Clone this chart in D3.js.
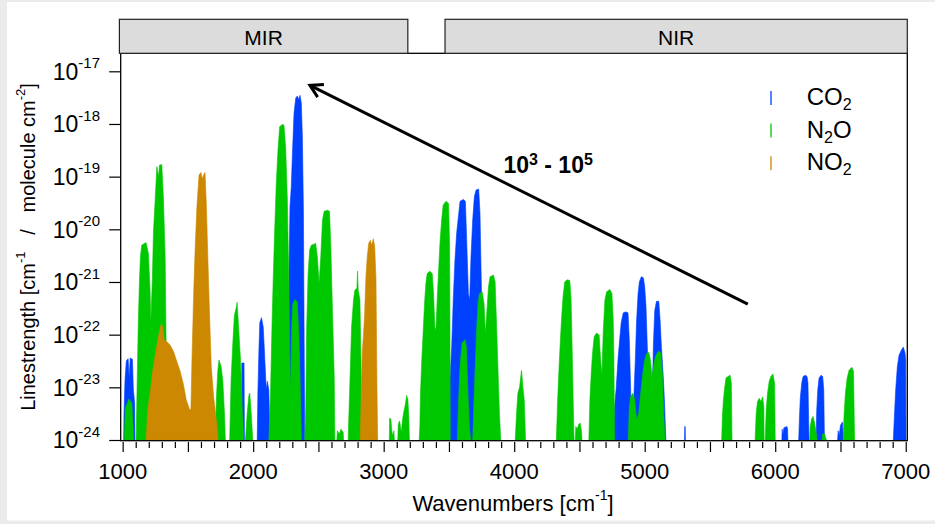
<!DOCTYPE html>
<html>
<head>
<meta charset="utf-8">
<script src="https://cdn.jsdelivr.net/npm/d3@7"></script>
<style>
  body { margin: 0; background: #ebebeb; }
  svg { display: block; font-family: "Liberation Sans", Arial, sans-serif; }
</style>
</head>
<body>
<svg id="chart" width="935" height="524"></svg>
<script>
// Band envelopes: [wavenumber (cm-1), line strength]
var co2Bands = [
  [[1008,1e-24],[1010,3e-24],[1018,1.4e-23],[1028,3.2e-23],[1042,3.5e-23],[1050,1.5e-23],[1058,3.6e-23],[1075,3.4e-23],[1082,9e-24],[1092,5e-24],[1094,1e-24]],
  [[1910,1e-24],[1913,2.9e-23],[1930,2.9e-23],[1933,1e-24]],
  [[2031,1e-24],[2036,7.8e-24],[2044,5.1e-23],[2051,1.7e-22],[2064,2.1e-22],[2077,1.4e-22],[2087,4.5e-23],[2100,9e-24],[2108,1.3e-23],[2120,9e-24],[2128,1e-24]],
  [[2269,1e-24],[2274,1.26e-21],[2282,2.7e-20],[2292,6.4e-20],[2300,2.4e-19],[2313,1.6e-18],[2326,3.1e-18],[2338,3.4e-18],[2349,2.9e-18],[2359,3.5e-18],[2369,2.5e-18],[2377,5.8e-19],[2385,2.3e-20],[2390,1.4e-22],[2395,1e-24]],
  [[3503,1e-24],[3508,1.4e-23],[3521,5.9e-23],[3533,4.6e-22],[3546,2.6e-21],[3559,8.4e-21],[3572,1.7e-20],[3585,3.4e-20],[3610,3.7e-20],[3626,3.4e-20],[3636,6.3e-21],[3649,6e-22],[3659,4.6e-22],[3669,3e-21],[3682,1.5e-20],[3695,4.2e-20],[3708,5.6e-20],[3728,5.8e-20],[3738,2e-20],[3749,7.1e-22],[3759,5.9e-23],[3769,3.2e-24],[3777,1e-24]],
  [[4759,1e-24],[4769,4.3e-24],[4782,1e-23],[4795,3.3e-23],[4808,8e-23],[4820,1.7e-22],[4836,2.6e-22],[4854,2.7e-22],[4872,2.6e-22],[4882,8e-23],[4892,1e-23],[4900,1e-24]],
  [[4908,1e-24],[4918,7.7e-24],[4928,3.3e-23],[4938,1.9e-22],[4949,6e-22],[4959,1e-21],[4974,1.26e-21],[4990,1.2e-21],[5000,8.1e-22],[5010,3.4e-22],[5020,5.9e-23],[5031,7.7e-24],[5041,1e-24]],
  [[5051,1e-24],[5059,1e-23],[5067,6.9e-23],[5077,2.9e-22],[5090,4.3e-22],[5108,4.3e-22],[5118,1.9e-22],[5128,5.9e-23],[5141,1.8e-23],[5151,5.8e-24],[5162,1e-24]],
  [[5305,1e-24],[5307,1.8e-24],[5310,1.8e-24],[5312,1e-24]],
  [[6051,1e-24],[6053,1.6e-24],[6060,1.3e-24],[6066,1.7e-24],[6090,1.8e-24],[6095,1.6e-24],[6097,1e-24]],
  [[6180,1e-24],[6185,2.4e-24],[6192,6.2e-24],[6203,1.2e-23],[6213,1.6e-23],[6231,1.7e-23],[6244,1.6e-23],[6251,1.2e-23],[6259,1e-24]],
  [[6313,1e-24],[6318,3.7e-24],[6326,8.9e-24],[6336,1.5e-23],[6351,1.7e-23],[6364,1.6e-23],[6372,8.9e-24],[6377,1e-24]],
  [[6478,1e-24],[6482,1.5e-24],[6490,1.2e-24],[6500,1.9e-24],[6515,2.2e-24],[6522,1e-24]],
  [[6905,1e-24],[6913,2.8e-24],[6923,8.9e-24],[6936,2.5e-23],[6949,4.1e-23],[6967,5.1e-23],[6982,5.8e-23],[6995,4.4e-23],[7000,3.3e-23],[7002,1e-24]]
];

var n2oBands = [
  [[1012,1e-24],[1020,4e-24],[1048,6e-24],[1070,5e-24],[1085,1e-24]],
  [[1103,1e-24],[1113,2.1e-23],[1120,1.8e-22],[1128,9.4e-22],[1136,3e-21],[1146,5e-21],[1179,5.6e-21],[1197,3.5e-21],[1210,7.1e-22],[1216,1.7e-22],[1228,1.26e-21],[1236,9e-21],[1249,3.6e-20],[1262,1.55e-19],[1275,1e-19],[1282,1.65e-19],[1300,1.7e-19],[1313,3.6e-20],[1326,2.6e-21],[1333,6.9e-23],[1338,1e-24]],
  [[1710,1e-24],[1718,5.8e-24],[1728,1.9e-23],[1738,3.3e-23],[1754,2.5e-23],[1767,1.4e-23],[1780,3.2e-24],[1787,1e-24]],
  [[1820,1e-24],[1831,1.4e-23],[1844,6.9e-23],[1856,2.3e-22],[1872,3.4e-22],[1877,4.1e-22],[1887,1.6e-22],[1903,3.3e-23],[1918,3.2e-24],[1928,1e-24]],
  [[1941,1e-24],[1954,3.2e-24],[1967,7e-24],[1974,7.8e-24],[1985,3.2e-24],[1997,1e-24]],
  [[2120,1e-24],[2133,7.8e-24],[2144,1.4e-22],[2154,1.26e-21],[2164,8.3e-21],[2177,7.4e-20],[2190,3.2e-19],[2203,8.9e-19],[2223,9.8e-19],[2236,9.5e-19],[2249,3.5e-19],[2262,3.6e-20],[2272,1.45e-21],[2280,5e-23],[2287,7.8e-24],[2295,1.4e-22],[2303,3.7e-22],[2318,4.6e-22],[2338,4.2e-22],[2351,9.2e-23],[2359,1.6e-23],[2369,1e-24]],
  [[2395,1e-24],[2403,4.3e-24],[2410,1.4e-22],[2421,1.45e-21],[2433,4.1e-21],[2446,5e-21],[2479,5.4e-21],[2492,3e-21],[2505,9.4e-22],[2518,3e-21],[2531,1.5e-20],[2544,2.2e-20],[2569,2.3e-20],[2585,2.2e-20],[2595,4.7e-21],[2608,2.6e-22],[2621,1.6e-23],[2626,1e-24]],
  [[2641,1e-24],[2645,1.5e-24],[2660,1.3e-24],[2672,1.6e-24],[2690,1.4e-24],[2692,1e-24]],
  [[2728,1e-24],[2733,2.8e-24],[2744,2.1e-23],[2754,1.4e-22],[2769,4.6e-22],[2779,7e-22],[2795,7.6e-22],[2800,1.6e-21],[2805,7e-22],[2818,4.6e-22],[2826,3.3e-23],[2831,1e-24]],
  [[3043,1e-24],[3046,2.6e-24],[3055,2.5e-24],[3062,1.5e-24],[3068,1.2e-24],[3078,1.5e-24],[3082,1e-24]],
  [[3108,1e-24],[3112,2e-24],[3122,2.3e-24],[3135,1.4e-24],[3145,2.5e-24],[3155,3.5e-24],[3165,4.6e-24],[3176,7e-24],[3185,6e-24],[3192,3e-24],[3197,1e-24]],
  [[3272,1e-24],[3277,1.8e-24],[3282,7.7e-24],[3292,3.3e-23],[3303,1.2e-22],[3313,3.9e-22],[3323,9.3e-22],[3333,1.45e-21],[3354,1.6e-21],[3372,1.45e-21],[3382,6e-22],[3392,1.4e-22],[3400,1.2e-22],[3410,4.6e-22],[3421,1.7e-21],[3431,5.4e-21],[3444,1.5e-20],[3456,2.9e-20],[3477,3.4e-20],[3497,3.1e-20],[3505,5.4e-21],[3508,1.4e-22],[3510,1e-24]],
  [[3564,1e-24],[3574,5.8e-24],[3585,2.5e-23],[3600,6.9e-23],[3623,8e-23],[3633,5.9e-23],[3646,7.7e-24],[3656,1.8e-24],[3667,1e-24]],
  [[3682,1e-24],[3692,5.8e-24],[3703,3.3e-23],[3713,1.4e-22],[3723,3.9e-22],[3733,6e-22],[3754,6.5e-22],[3769,3.9e-22],[3779,1.07e-22],[3790,2.6e-22],[3803,8.1e-22],[3815,1.26e-21],[3841,1.36e-21],[3854,1e-21],[3867,1.07e-22],[3877,1.8e-23],[3887,3.2e-24],[3897,1e-24]],
  [[4008,1e-24],[4018,3.2e-24],[4028,7.7e-24],[4041,1e-23],[4056,2.1e-23],[4067,1e-23],[4077,5.8e-24],[4087,1e-24]],
  [[4323,1e-24],[4333,5.8e-24],[4344,2.5e-23],[4354,8e-23],[4364,2.2e-22],[4374,5.2e-22],[4387,1e-21],[4405,1.1e-21],[4426,1.07e-21],[4436,4.6e-22],[4446,3.3e-23],[4454,3.2e-24],[4459,1e-24]],
  [[4468,1e-24],[4472,1.8e-24],[4482,1.6e-24],[4495,2e-24],[4505,2.1e-24],[4515,1.5e-24],[4520,1e-24]],
  [[4572,1e-24],[4580,5.8e-24],[4590,1.8e-23],[4600,4.4e-23],[4613,9.2e-23],[4631,1.07e-22],[4651,9.9e-23],[4662,3.3e-23],[4672,1.8e-23],[4682,1.07e-22],[4695,4.6e-22],[4708,6.5e-22],[4733,7.2e-22],[4749,6e-22],[4759,1.9e-22],[4764,3.3e-23],[4769,1e-24]],
  [[4874,1e-24],[4882,4.3e-24],[4892,6.6e-24],[4908,7.7e-24],[4923,5.8e-24],[4938,2.4e-24],[4954,3.2e-24],[4969,7.7e-24],[4985,1.8e-23],[5000,3.3e-23],[5015,4.4e-23],[5031,4.6e-23],[5044,3.3e-23],[5056,1.6e-23],[5067,2.5e-23],[5082,3.8e-23],[5103,4.8e-23],[5123,4.6e-23],[5136,1.8e-23],[5146,3.2e-24],[5156,1e-24]],
  [[5590,1e-24],[5595,2.8e-24],[5603,5.7e-24],[5613,1e-23],[5623,1.5e-23],[5638,1.6e-23],[5654,1.7e-23],[5664,1.2e-23],[5669,1e-24]],
  [[5846,1e-24],[5854,3.2e-24],[5864,5.3e-24],[5877,6.2e-24],[5892,5.3e-24],[5903,6.6e-24],[5913,4.3e-24],[5915,1e-24]],
  [[5923,1e-24],[5931,3.7e-24],[5941,7.7e-24],[5954,1.3e-23],[5967,1.6e-23],[5982,1.8e-23],[5995,1.2e-23],[6000,1e-24]],
  [[6264,1e-24],[6268,1.8e-24],[6278,2.5e-24],[6290,2.8e-24],[6300,2.2e-24],[6310,1.6e-24],[6320,1e-24]],
  [[6358,1e-24],[6362,1.3e-24],[6378,1.3e-24],[6392,1e-24]],
  [[6520,1e-24],[6528,3.2e-24],[6538,7.7e-24],[6551,1.5e-23],[6566,2.1e-23],[6587,2.4e-23],[6600,2e-23],[6608,1e-24]]
];

var no2Bands = [
  [[1180,1e-24],[1192,3.7e-24],[1210,7.8e-24],[1231,2.1e-23],[1256,5.1e-23],[1274,9.2e-23],[1295,1.6e-22],[1308,1.4e-22],[1318,8e-23],[1338,7.4e-23],[1364,6.3e-23],[1390,4.8e-23],[1415,3.1e-23],[1441,2e-23],[1467,1.1e-23],[1487,5.8e-24],[1513,3.8e-24],[1523,3.8e-24],[1531,3.3e-23],[1544,6e-22],[1556,4.7e-21],[1569,2.7e-20],[1585,1.07e-19],[1600,1.2e-19],[1610,9e-20],[1620,1.07e-19],[1631,1.2e-19],[1641,3.1e-20],[1651,4.1e-21],[1664,3.2e-22],[1679,2.5e-23],[1697,6.6e-24],[1723,1.8e-24],[1731,1e-24]],
  [[2820,1e-24],[2828,7.8e-24],[2836,4.5e-23],[2846,1.07e-22],[2854,2.5e-22],[2864,1.26e-21],[2874,3e-21],[2885,5.4e-21],[2897,6.2e-21],[2908,5e-21],[2920,6.6e-21],[2931,4.8e-21],[2941,1.15e-21],[2949,7.8e-24],[2954,1e-24]]
];

// Legend entries: [before subscript, subscript, after subscript]
var legendNames = [["CO", "2", ""], ["N", "2", "O"], ["NO", "2", ""]];
var legendColors = ["#0040ff", "#00c800", "#cc8800"];

var xTickValues = [1000, 2000, 3000, 4000, 5000, 6000, 7000];
var yTickValues = [1e-24, 1e-23, 1e-22, 1e-21, 1e-20, 1e-19, 1e-18, 1e-17];
var yTickExponents = ["-24", "-23", "-22", "-21", "-20", "-19", "-18", "-17"];

// Spectral regions on top of the panel: [name, from, to] in cm-1
var regions = [["MIR", 975, 3185], ["NIR", 3470, 7012]];

// Arrow from the weak NIR bands to the strong MIR band
var arrowFrom = [5790, 3.8e-22];
var arrowTo = [2435, 5.4e-18];
var arrowLabelAt = [4260, 1.15e-19];

var svg = d3.select("#chart");

// White panel over the grey page:
svg.append("rect")
    .attr("x", 7).attr("y", 2)
    .attr("width", 928).attr("height", 518.5)
    .attr("fill", "white");

var frame = { left: 120.7, right: 907.3, top: 53.3, bottom: 440.7 };

var x = d3.scaleLinear().domain([985, 7012]).range([frame.left, frame.right]);
var y = d3.scaleLog().domain([1e-24, 1e-17]).range([440, 71.3]);

svg.append("clipPath").attr("id", "plot-clip")
  .append("rect")
    .attr("x", frame.left).attr("y", frame.top)
    .attr("width", frame.right - frame.left)
    .attr("height", frame.bottom - frame.top);

var area = d3.area()
    .x(function (d) { return x(d[0]); })
    .y0(y(1e-24))
    .y1(function (d) { return y(d[1]); });

var bandLayer = svg.append("g").attr("clip-path", "url(#plot-clip)");

function drawBands(bands, color) {
    bandLayer.append("g")
      .selectAll("path")
      .data(bands)
      .enter().append("path")
        .attr("d", area)
        .attr("fill", color)
        .attr("stroke", color)
        .attr("stroke-width", 0.6);
}

// CO2 first, N2O on top, NO2 on top of both:
drawBands(co2Bands, legendColors[0]);
drawBands(n2oBands, legendColors[1]);
drawBands(no2Bands, legendColors[2]);

// Panel frame:
svg.append("rect")
    .attr("x", frame.left).attr("y", frame.top)
    .attr("width", frame.right - frame.left)
    .attr("height", frame.bottom - frame.top)
    .attr("fill", "none")
    .attr("stroke", "black")
    .attr("stroke-width", 1.3);

// Region strips:
var strips = svg.append("g").selectAll("g")
    .data(regions)
    .enter().append("g");

strips.append("rect")
    .attr("x", function (d) { return x(d[1]); })
    .attr("y", 19.3)
    .attr("width", function (d) { return x(d[2]) - x(d[1]); })
    .attr("height", frame.top - 19.3)
    .attr("fill", "#dcdcdc")
    .attr("stroke", "#222")
    .attr("stroke-width", 1.2);

strips.append("text")
    .attr("x", function (d) { return (x(d[1]) + x(d[2])) / 2; })
    .attr("y", 45)
    .attr("text-anchor", "middle")
    .attr("font-size", 21)
    .text(function (d) { return d[0]; });

// X axis: minor ticks every 100, longer ones every 500, labels every 1000
var xAxis = d3.axisBottom(x)
    .tickValues(d3.range(1000, 7001, 100))
    .tickSize(6)
    .tickFormat("");

var xAxisG = svg.append("g")
    .attr("transform", "translate(0," + 442 + ")")
    .call(xAxis);
xAxisG.select(".domain").remove();
xAxisG.selectAll(".tick line")
    .attr("stroke", "black")
    .attr("stroke-width", 1.2)
    .attr("y2", function (d) { return d % 500 === 0 ? 10 : 6; });

svg.append("g").selectAll("text")
    .data(xTickValues)
    .enter().append("text")
      .attr("x", function (d) { return x(d); })
      .attr("y", 478.5)
      .attr("text-anchor", "middle")
      .attr("font-size", 22)
      .text(function (d) { return d; });

// Y axis: decade ticks with 10^n labels
var yAxis = d3.axisLeft(y)
    .tickValues(yTickValues)
    .tickSize(11.5)
    .tickFormat("");

var yAxisG = svg.append("g")
    .attr("transform", "translate(" + frame.left + ",0)")
    .call(yAxis);
yAxisG.select(".domain").remove();
yAxisG.selectAll(".tick line").attr("stroke", "black").attr("stroke-width", 1.2);

var yLabels = svg.append("g").selectAll("text")
    .data(yTickValues)
    .enter().append("text")
      .attr("x", 100)
      .attr("y", function (d) { return y(d) + 8.4; })
      .attr("text-anchor", "end")
      .attr("font-size", 23);

yLabels.append("tspan").text("10");
yLabels.append("tspan")
    .attr("dy", -11.7)
    .attr("font-size", 15)
    .text(function (d, i) { return yTickExponents[i]; });

// Axis titles:
var xTitle = svg.append("text")
    .attr("x", 513)
    .attr("y", 511)
    .attr("text-anchor", "middle")
    .attr("font-size", 22);
xTitle.append("tspan").text("Wavenumbers [cm");
xTitle.append("tspan").attr("dy", -11).attr("font-size", 14).text("-1");
xTitle.append("tspan").attr("dy", 11).text("]");

var yTitle = svg.append("text")
    .attr("transform", "translate(35,247) rotate(-90)")
    .attr("text-anchor", "middle")
    .attr("font-size", 20);
yTitle.append("tspan").text("Linestrength [cm");
yTitle.append("tspan").attr("dy", -10).attr("font-size", 13).text("-1");
yTitle.append("tspan").attr("dy", 10).attr("xml:space", "preserve").text("   /   molecule cm");
yTitle.append("tspan").attr("dy", -10).attr("font-size", 13).text("-2");
yTitle.append("tspan").attr("dy", 10).text("]");

// Legend:
var legend = svg.append("g").selectAll("g")
    .data(legendNames)
    .enter().append("g")
      .attr("transform", function (d, i) { return "translate(771," + (105 + i * 32.6) + ")"; });

legend.append("line")
    .attr("x1", 0).attr("x2", 0)
    .attr("y1", -14).attr("y2", 0)
    .attr("stroke", function (d, i) { return legendColors[i]; })
    .attr("stroke-width", 1.3);

var legendText = legend.append("text")
    .attr("x", 35.7)
    .attr("y", 0)
    .attr("font-size", 24);
legendText.append("tspan").text(function (d) { return d[0]; });
legendText.append("tspan").attr("dy", 5).attr("font-size", 16).text(function (d) { return d[1]; });
legendText.append("tspan").attr("dy", -5).text(function (d) { return d[2]; });

// Annotation arrow:
var ax0 = x(arrowFrom[0]), ay0 = y(arrowFrom[1]);
var ax1 = x(arrowTo[0]), ay1 = y(arrowTo[1]);
var angle = Math.atan2(ay0 - ay1, ax0 - ax1);
var head = 14, spread = Math.PI / 6;

svg.append("line")
    .attr("x1", ax0).attr("y1", ay0)
    .attr("x2", ax1).attr("y2", ay1)
    .attr("stroke", "black")
    .attr("stroke-width", 3);

svg.append("path")
    .attr("d", "M" + (ax1 + head * Math.cos(angle - spread)) + "," + (ay1 + head * Math.sin(angle - spread)) +
               "L" + ax1 + "," + ay1 +
               "L" + (ax1 + head * Math.cos(angle + spread)) + "," + (ay1 + head * Math.sin(angle + spread)))
    .attr("fill", "none")
    .attr("stroke", "black")
    .attr("stroke-width", 3);

var arrowLabel = svg.append("text")
    .attr("x", x(arrowLabelAt[0]))
    .attr("y", y(arrowLabelAt[1]))
    .attr("text-anchor", "middle")
    .attr("font-size", 23)
    .attr("font-weight", "bold");
arrowLabel.append("tspan").text("10");
arrowLabel.append("tspan").attr("dy", -8).attr("font-size", 16).text("3");
arrowLabel.append("tspan").attr("dy", 8).attr("xml:space", "preserve").text(" - 10");
arrowLabel.append("tspan").attr("dy", -8).attr("font-size", 16).text("5");
</script>
</body>
</html>
